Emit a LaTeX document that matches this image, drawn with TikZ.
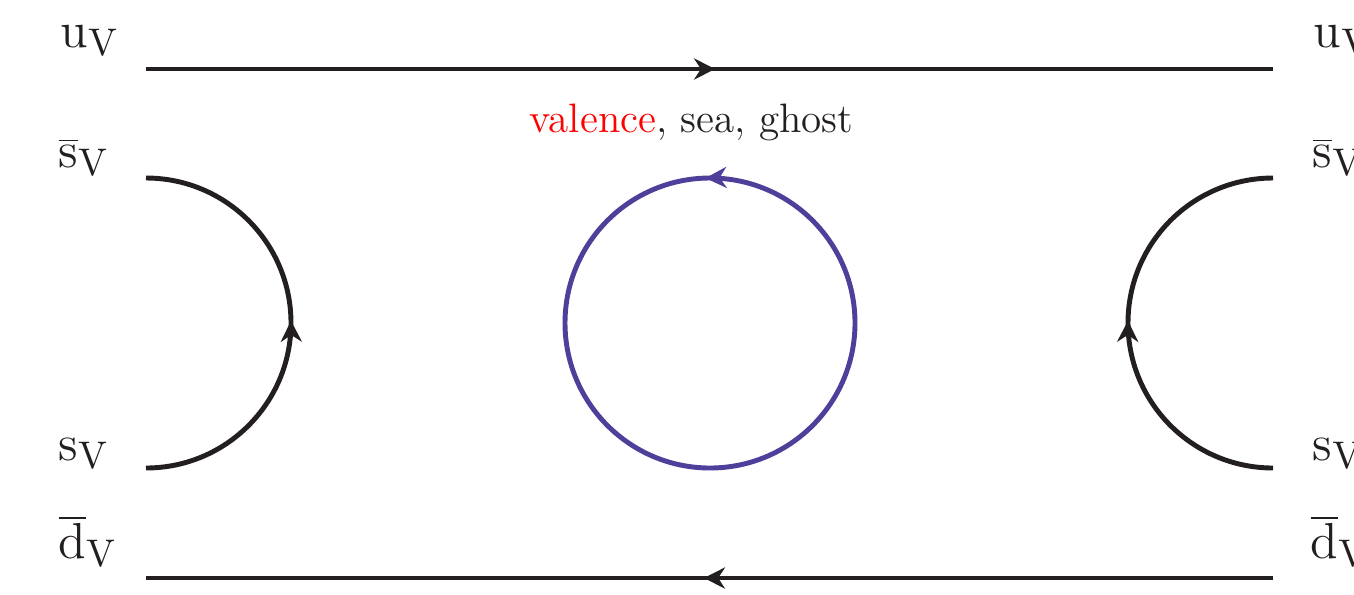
\documentclass[tikz,border=0pt]{standalone}
\usetikzlibrary{arrows.meta,decorations.markings}
\definecolor{quarkblack}{RGB}{35,31,32}
\definecolor{loopblue}{RGB}{79,63,154}
\tikzset{
  quark/.style={line width=1.4pt, draw=quarkblack,
    postaction={decorate},
    decoration={markings, mark=at position 0.505 with {\arrow{Stealth[length=6pt,width=6pt]}}}},
  loopline/.style={quark, draw=loopblue, color=loopblue},
  flav/.style={inner sep=0pt, anchor=base west, text=quarkblack, font=\fontsize{15.8}{19}\selectfont},
}
\begin{document}
\begin{tikzpicture}
\useasboundingbox (0,0) rectangle (13.54,-5.94);
% end points of the quark lines
\coordinate (uin) at (1.46,-0.69);
\coordinate (uout) at (12.73,-0.69);
\coordinate (sbarL) at (1.46,-1.78);
\coordinate (sL) at (1.46,-4.68);
\coordinate (sbarR) at (12.73,-1.78);
\coordinate (sR) at (12.73,-4.68);
\coordinate (dout) at (1.46,-5.78);
\coordinate (din) at (12.73,-5.78);
\coordinate (loopbot) at (7.10,-4.68);
% flavour labels
\node[flav] (uVL) at (0.60,-0.47) {$\mathrm{u}_\mathrm{V}$};
\node[flav] (sbarVL) at (0.58,-1.67) {$\overline{\mathrm{s}}_\mathrm{V}$};
\node[flav] (sVL) at (0.58,-4.60) {$\mathrm{s}_\mathrm{V}$};
\node[flav] (dbarVL) at (0.58,-5.58) {$\overline{\mathrm{d}}_\mathrm{V}$};
\node[flav] (uVR) at (13.13,-0.47) {$\mathrm{u}_\mathrm{V}$};
\node[flav] (sbarVR) at (13.12,-1.67) {$\overline{\mathrm{s}}_\mathrm{V}$};
\node[flav] (sVR) at (13.12,-4.60) {$\mathrm{s}_\mathrm{V}$};
\node[flav] (dbarVR) at (13.10,-5.58) {$\overline{\mathrm{d}}_\mathrm{V}$};
\node[inner sep=0pt, anchor=base west, text=quarkblack, font=\fontsize{11.7}{14}\selectfont] (kind) at (5.29,-1.32)
  {\textcolor{red}{valence}, sea, ghost};
% quark lines
\draw[quark] (uin) -- (uout);
\draw[quark] (din) -- (dout);
\draw[quark] (sL) arc[start angle=-90, end angle=90, radius=1.45];
\draw[quark] (sR) arc[start angle=-90, end angle=-270, radius=1.45];
\draw[loopline] (loopbot) arc[start angle=-90, end angle=270, radius=1.45];
\end{tikzpicture}
\end{document}
